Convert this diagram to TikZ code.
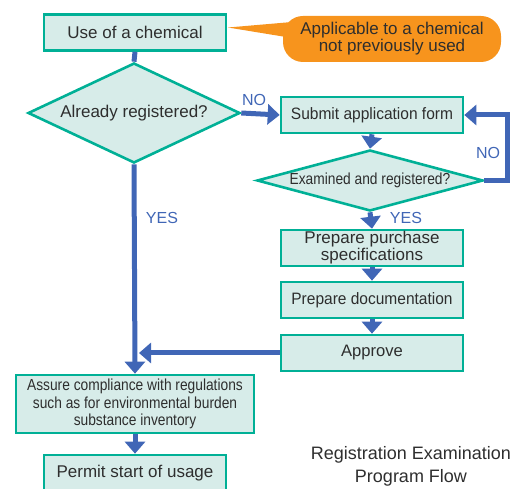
\documentclass[tikz,border=0pt]{standalone}
\usepackage{fontspec}
\setmainfont{Liberation Sans}
\newfontfamily\condA[FakeStretch=0.86]{Liberation Sans}
\newfontfamily\condB[FakeStretch=0.94]{Liberation Sans}
\usetikzlibrary{arrows.meta,shapes.geometric}
\definecolor{boxfill}{HTML}{D7ECE9}
\definecolor{boxline}{HTML}{00B096}
\definecolor{flow}{HTML}{4066B6}
\definecolor{callout}{HTML}{F7941D}
\definecolor{txt}{HTML}{2E2E2E}
\begin{document}
\begin{tikzpicture}[x=1pt,y=-1pt,
  box/.style={draw=boxline, fill=boxfill, line width=2.6pt, minimum width=182pt, minimum height=36pt, inner sep=0pt, text=txt, align=center, font=\fontsize{17}{17}\selectfont},
  dia/.style={diamond, draw=boxline, fill=boxfill, line width=2.6pt, inner sep=0pt, text=txt, align=center},
  flowline/.style={draw=flow, line width=5pt},
  arr/.style={flowline, -{Triangle[width=20pt,length=12pt]}},
  lab/.style={text=flow, font=\fontsize{16}{16}\selectfont, inner sep=0pt}]
\useasboundingbox (0,0) rectangle (523,489);
% callout
\coordinate (tip) at (228,27.5);
\fill[callout] (tip) -- (292,22) -- (292,38) -- cycle;
\node[fill=callout, rounded corners=20pt, minimum width=218pt, minimum height=46pt, inner sep=0pt, align=center, text=txt, font=\fontsize{17}{17}\selectfont] (call) at (392,39) {Applicable to a chemical\\not previously used};
% nodes
\node[box] (use) at (135,32.5) {Use of a chemical};
\node[dia, shape aspect=2.12, minimum width=212pt, minimum height=100pt, font=\fontsize{17}{17}\selectfont] (d1) at (134,113) {Already registered?};
\node[box, font=\condB\fontsize{16.5}{16.5}\selectfont] (submit) at (372,115) {Submit application form};
\node[dia, shape aspect=3.7, minimum width=226pt, minimum height=61pt, font=\condA\fontsize{16}{16}\selectfont] (d2) at (370,180.5) {Examined and registered?};
\node[box] (purchase) at (372,248) {Prepare purchase\\specifications};
\node[box, font=\condB\fontsize{16.5}{16.5}\selectfont] (docs) at (372,300) {Prepare documentation};
\node[box, font=\fontsize{16.6}{16.6}\selectfont] (approve) at (372,353) {Approve};
\node[box, minimum width=238pt, minimum height=58pt, font=\condA\fontsize{16}{17.5}\selectfont] (assure) at (135,404) {Assure compliance with regulations\\such as for environmental burden\\substance inventory};
\node[box] (permit) at (135,473) {Permit start of usage};
\node[text=txt, align=center, inner sep=0pt, font=\fontsize{18}{23}\selectfont] (cap) at (411,466) {Registration Examination\\Program Flow};
% connectors
\coordinate (loop) at (507,115);
\coordinate (join) at (139,353);
\draw[flowline] (use.south) -- (d1.north);
\draw[arr] (d1.east) -- (submit.west);
\draw[arr] (submit.south) -- (d2.north);
\draw[arr] (d2.east) -- (d2.east -| loop) -- (loop) -- (submit.east);
\draw[arr] (d2.south) -- (purchase.north);
\draw[arr] (purchase.south) -- (docs.north);
\draw[arr] (docs.south) -- (approve.north);
\draw[arr] (approve.west) -- (join);
\draw[arr] (d1.south) -- (assure.north);
\draw[arr] (assure.south) -- (permit.north);
% labels
\node[lab] (no1) at (254,100) {NO};
\node[lab] (no2) at (488,153) {NO};
\node[lab] (yes1) at (162,218) {YES};
\node[lab] (yes2) at (406,218) {YES};
\end{tikzpicture}
\end{document}
